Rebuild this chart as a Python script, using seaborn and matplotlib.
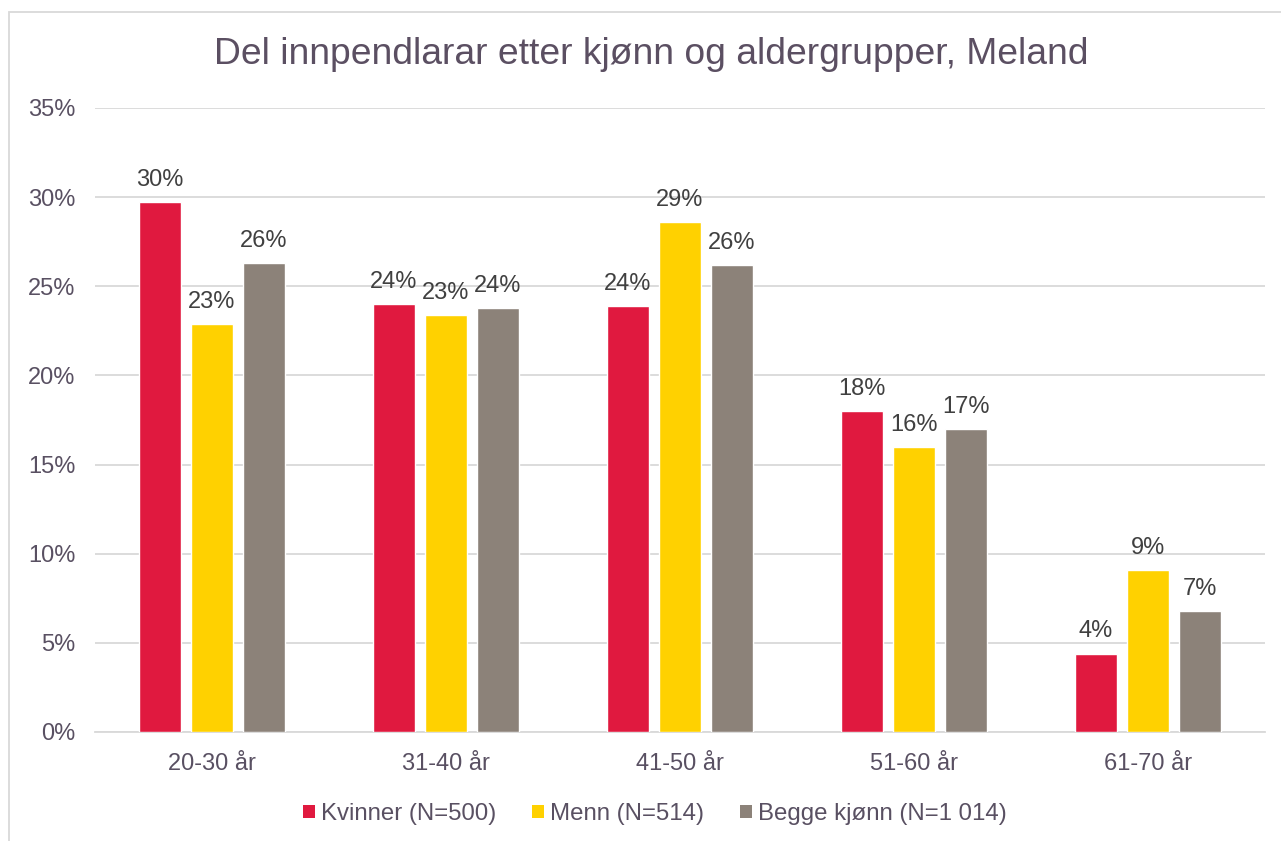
import matplotlib
matplotlib.use("Agg")
import matplotlib.pyplot as plt
import seaborn as sns
import pandas as pd
from matplotlib.patches import Rectangle, Patch
from matplotlib.ticker import FuncFormatter

categories = ["20-30 år", "31-40 år", "41-50 år", "51-60 år", "61-70 år"]
series_names = ["Kvinner (N=500)", "Menn (N=514)", "Begge kjønn (N=1 014)"]
kvinner = [29.7, 24.0, 23.9, 18.0, 4.4]
menn = [22.9, 23.4, 28.6, 16.0, 9.1]
begge = [26.3, 23.8, 26.2, 17.0, 6.8]
colors = ["#E0193F", "#FFD100", "#8C8279"]
title = "Del innpendlarar etter kjønn og aldergrupper, Meland"

rows = []
for name, vals in zip(series_names, [kvinner, menn, begge]):
    for c, v in zip(categories, vals):
        rows.append({"Alder": c, "Gruppe": name, "Andel": v})
df = pd.DataFrame(rows)

sns.set_style("white")
plt.rcParams["font.family"] = ["Liberation Sans", "DejaVu Sans"]

fig = plt.figure(figsize=(12.81, 8.41), dpi=100)
ax = fig.add_axes([95 / 1281, 1 - 732 / 841, (1265 - 95) / 1281, (732 - 108) / 841])

sns.barplot(data=df, x="Alder", y="Andel", hue="Gruppe", hue_order=series_names,
            order=categories, palette=colors, width=0.667, gap=0.21,
            saturation=1, errorbar=None, legend=False, ax=ax, zorder=3)

ax.set_xlim(-0.5, 4.5)
ax.set_ylim(0, 35)
ax.set_yticks(range(0, 36, 5))
ax.yaxis.set_major_formatter(FuncFormatter(lambda v, p: f"{v:.0f}%"))
ax.grid(axis="y", color="#D9D9D9", linewidth=1.3, zorder=0)
ax.grid(axis="x", visible=False)
for s in ["left", "right", "top"]:
    ax.spines[s].set_visible(False)
ax.spines["bottom"].set_color("#D9D9D9")
ax.spines["bottom"].set_linewidth(1.3)
ax.set_xlabel("")
ax.set_ylabel("")
tick_color = "#595062"
ax.tick_params(axis="y", length=0, pad=14, labelsize=17, labelcolor=tick_color)
ax.tick_params(axis="x", length=0, pad=15, labelsize=17, labelcolor=tick_color)

for cont in ax.containers:
    ax.bar_label(cont, labels=[f"{v:.0f}%" for v in cont.datavalues],
                 padding=8, fontsize=17, color="#404040")

fig.text(651 / 1281, 1 - 55 / 841, title, ha="center", va="center", fontsize=26.8, color="#5B4F62")

handles = [Patch(facecolor=c, edgecolor="none") for c in colors]
leg = fig.legend(handles, series_names, loc="center", bbox_to_anchor=(655 / 1281, 1 - 814 / 841),
                 ncol=3, frameon=False, fontsize=17.3, handlelength=0.5, handleheight=0.5,
                 handletextpad=0.25, columnspacing=1.5)
for t in leg.get_texts():
    t.set_color(tick_color)

fig.patches.append(Rectangle((9 / 1281, -0.05), 1.2, 1 - 12 / 841 + 0.05,
                             transform=fig.transFigure, fill=False,
                             edgecolor="#D9D9D9", linewidth=1.3))

fig.savefig("out.png", dpi=100, facecolor="white")
